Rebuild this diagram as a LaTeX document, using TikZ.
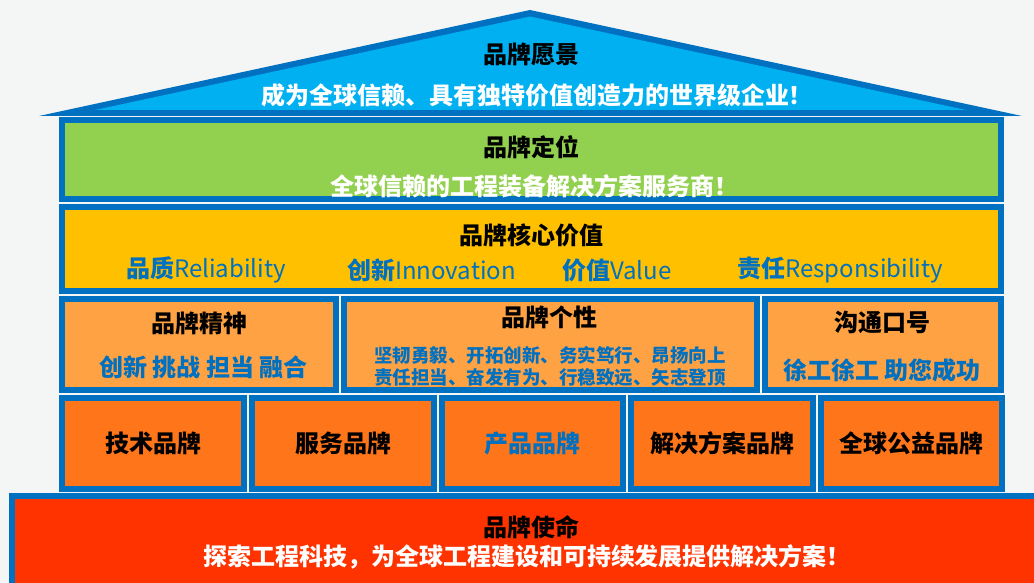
\documentclass[tikz,border=0pt]{standalone}
\usepackage{fontspec}
\setmainfont{Noto Sans CJK SC}
\usepackage{tikz}
\usepackage{xcolor}
\usetikzlibrary{positioning}

\definecolor{pagegray}{HTML}{F4F6F6}
\definecolor{frameblue}{HTML}{0070C0}
\definecolor{roofcyan}{HTML}{00B0F0}
\definecolor{posgreen}{HTML}{92D050}
\definecolor{coreyellow}{HTML}{FFC000}
\definecolor{lightorange}{HTML}{FFA244}
\definecolor{brandorange}{HTML}{FF7519}
\definecolor{missionred}{HTML}{FF3300}

\begin{document}
\begin{tikzpicture}[x=1pt, y=-1pt,
		cell/.style={draw=frameblue, line width=6pt, inner sep=0pt},
		big/.style={font=\fontsize{24}{28}\selectfont\bfseries, inner sep=0pt},
		small/.style={font=\fontsize{18.5}{22}\selectfont\bfseries, inner sep=0pt, text=frameblue},
		value/.style={font=\fontsize{24}{28}\selectfont, inner sep=0pt, anchor=west, text=frameblue}]
				\fill[pagegray] (0,0) rectangle (1034,583);
				\useasboundingbox (0,0) rectangle (1034,583);
				% roof
				\fill[frameblue] (39,116) -- (530,10) -- (1022,116) -- cycle;
				\fill[roofcyan] (95,110) -- (530,16.5) -- (966,110) -- cycle;
				\node[big] (vision) at (531,55) {品牌愿景};
				\node[big, text=white] (visiontext) at (537,95) {成为全球信赖、具有独特价值创造力的世界级企业！};
				% positioning
				\node[cell, fill=posgreen, minimum width=939pt, minimum height=79pt] (position) at (531.5,159.5) {};
				\node[big] (postitle) at (531,147) {品牌定位};
				\node[big, text=white] (postext) at (534,186) {全球信赖的工程装备解决方案服务商！};
				% core values
				\node[cell, fill=coreyellow, minimum width=939pt, minimum height=84pt] (core) at (531.5,249) {};
				\node[big] (coretitle) at (531,235) {品牌核心价值};
				\node[value] (v1) at (126,270) {\textbf{品质}Reliability};
				\node[value] (v2) at (347,270) {\textbf{创新}Innovation};
				\node[value] (v3) at (562,270) {\textbf{价值}Value};
				\node[value] (v4) at (737,270) {\textbf{责任}Responsibility};
				% spirit, personality, slogan
				\node[cell, fill=lightorange, minimum width=274pt, minimum height=91pt] (spirit) at (199,344.5) {};
				\node[cell, fill=lightorange, minimum width=413pt, minimum height=91pt] (persona) at (550.5,344.5) {};
				\node[cell, fill=lightorange, minimum width=236pt, minimum height=91pt] (slogan) at (883,344.5) {};
				\node[big] (spirittitle) at (199,323) {品牌精神};
				\node[big, text=frameblue] (spirittext) at (203.5,367) {创新 挑战 担当 融合};
				\node[big] (personatitle) at (549,317) {品牌个性};
				\node[small] (personaa) at (550,355) {坚韧勇毅、开拓创新、务实笃行、昂扬向上};
				\node[small] (personab) at (550,377) {责任担当、奋发有为、行稳致远、矢志登顶};
				\node[big] (slogantitle) at (882,322) {沟通口号};
				\node[big, text=frameblue] (slogantext) at (882,370) {徐工徐工 助您成功};
				% brands
				\node[cell, fill=brandorange, minimum width=182pt, minimum height=91pt, big] (tech) at (153,443.5) {技术品牌};
				\node[cell, fill=brandorange, minimum width=182pt, minimum height=91pt, big] (service) at (343,443.5) {服务品牌};
				\node[cell, fill=brandorange, minimum width=181pt, minimum height=91pt, big, text=frameblue] (product) at (532.5,443.5) {产品品牌};
				\node[cell, fill=brandorange, minimum width=182pt, minimum height=91pt, big] (solution) at (722,443.5) {解决方案品牌};
				\node[cell, fill=brandorange, minimum width=181pt, minimum height=91pt, big] (welfare) at (911.5,443.5) {全球公益品牌};
				% mission
				\node[cell, fill=missionred, minimum width=1029pt, minimum height=94pt] (mission) at (526.5,543) {};
				\node[big] (missiontitle) at (531,527) {品牌使命};
				\node[big, text=white] (missiontext) at (527,557) {探索工程科技，为全球工程建设和可持续发展提供解决方案！};
			\end{tikzpicture}
\end{document}
